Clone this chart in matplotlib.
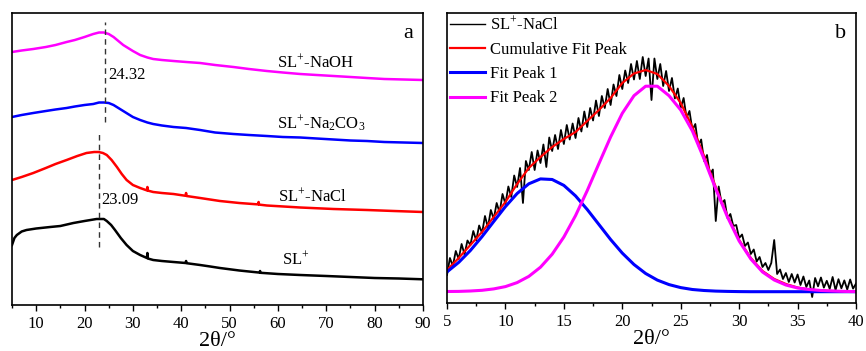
import numpy as np
import matplotlib
matplotlib.use("Agg")
import matplotlib.pyplot as plt
from matplotlib.ticker import MultipleLocator

plt.rcParams['font.family'] = ['Liberation Serif', 'DejaVu Serif']
plt.rcParams['mathtext.fontset'] = 'custom'
plt.rcParams['mathtext.rm'] = 'Liberation Serif'
plt.rcParams['mathtext.it'] = 'Liberation Serif:italic'

# ---- panel a: XRD patterns (intensity in a.u., stacked) ----
naoh_x = [5, 7, 9.4, 12, 14, 16.3, 18, 20, 21.8, 23, 24, 25, 26, 27, 28, 29, 30, 31.5, 33,
          34.2, 36, 38.4, 41, 43.9, 47, 50.8, 54, 57.7, 61, 64.6, 68, 71.5, 75, 78.4, 82, 86, 90]
naoh_y = [253, 254.5, 256, 258, 260, 263, 265, 268, 271, 272.5, 272.5, 271, 268, 264, 260, 257, 254,
          250, 247.5, 246, 245, 244, 243, 242, 240, 238, 236, 234, 232.5, 231, 230, 229, 228,
          227, 226, 225.5, 225]

na2co3_x = naoh_x
na2co3_y = [188, 190, 192, 194, 195.5, 197, 198.5, 200, 201, 202.5, 202.5, 202, 200, 197, 194, 191,
            188, 185, 182.5, 181, 179.5, 178, 177, 175, 172.5, 171, 170, 169, 168, 167.5, 166.5,
            165.5, 164.5, 164, 163, 162.5, 162]

nacl_x = [5, 7, 9.4, 12, 14, 16.3, 18.5, 20.4, 22, 22.9, 23.8, 24.6, 25.6, 26.7, 27.7, 28.7, 30,
          31.5, 32.9, 33.0, 33.1, 34.2, 36, 38.4, 40.9, 41.0, 41.1, 43.9, 48, 52, 55.9, 56.0,
          56.1, 57.7, 64.6, 71.5, 78.4, 84, 90]
nacl_y = [125, 128, 132, 137, 141, 145, 149, 152, 153, 153, 152, 150, 145, 138, 131, 125, 120,
          117, 114.6, 118, 114.4, 113, 112, 111, 109.2, 112, 109, 107, 104, 102, 100.6, 103,
          100.4, 99.5, 97.5, 96, 95, 94, 93]

sl_x = [5, 5.5, 6, 7, 8, 10, 12.9, 15, 17.7, 20, 22.5, 24, 24.6, 25.5, 26.3, 27.5, 28.7, 30,
        31.5, 32.9, 33.0, 33.1, 34.2, 36, 38.4, 40.9, 41.0, 41.1, 43.9, 46, 48, 52, 56.2, 56.3,
        56.4, 60, 64.6, 70, 75, 80, 85, 90]
sl_y = [60, 67, 70, 73.5, 75, 76.5, 78, 79, 82, 84, 86, 86, 84, 80, 75, 67, 60, 54, 50, 47, 52,
        46.5, 45, 44, 43, 42, 44, 41.8, 40, 38.5, 37, 34.5, 32.4, 34, 32.2, 31, 30, 29, 28, 27,
        26.5, 25.7]

# ---- panel b: peak fitting of SL+-NaCl ----
fit_x = np.linspace(5, 40, 36)
cumulative = [33, 45, 58, 71, 86, 101, 119, 135, 146, 156, 164, 171, 182, 193, 205, 220, 229.5,
              233, 229, 217, 200, 176, 147, 116, 87, 63, 45, 32, 24, 19, 15.5, 13.5, 12.5, 12,
              11.6, 11.4]
peak1 = [31.1, 40.6, 52.5, 66.4, 81.5, 96.4, 109.5, 119.2, 124.1, 123.5, 117.6, 107.1, 93.5,
         78.5, 63.5, 49.9, 38.5, 29.5, 22.9, 18.4, 15.4, 13.5, 12.5, 11.9, 11.6, 11.4, 11.3,
         11.3, 11.3, 11.3, 11.3, 11.3, 11.3, 11.3, 11.3, 11.3]
peak2 = [11.5, 11.6, 12.0, 12.7, 14.1, 16.4, 20.4, 26.6, 35.8, 48.8, 66.0, 87.4, 112.4, 139.4,
         166.0, 189.7, 207.3, 216.8, 216.8, 207.3, 193, 172, 144, 114, 86, 62, 44, 31, 23, 18,
         15, 13.5, 12.5, 12, 11.6, 11.4]

raw_x = np.linspace(5, 40, 141)
raw_y = [28, 45, 37, 52,
         44, 59, 48.5, 62.5,
         58, 72, 62.5, 77.5,
         70, 87, 75.5, 93,
         84, 100, 90.5, 109,
         99, 116.5, 106, 127.5,
         116, 135, 100, 142,
         133, 151, 133, 152.5,
         140, 158.5, 136, 165.5,
         152, 168, 154, 173,
         159, 178, 163.5, 179.5,
         165, 185, 171.5, 191.5,
         176, 195, 182.5, 202.5,
         187, 207, 195, 214,
         198, 218.5, 207, 228,
         214, 232.5, 220, 239,
         223.5, 242, 224, 246,
         227, 244.5, 203, 244.5,
         224, 239, 217, 232,
         212, 225, 204.5, 214.5,
         195, 205, 185, 192,
         173, 179, 157.5, 163.5,
         142, 148, 128.5, 133.5,
         82, 116.5, 99.5, 103,
         85, 89, 77, 78,
         65, 68.5, 57, 60.5,
         49, 53.5, 41.5, 46,
         36, 40, 33, 40,
         63, 29, 33.5, 24,
         30, 21, 29, 20.5,
         28.5, 18, 26.5, 16,
         22.5, 6, 25, 16.7,
         25.5, 15.4, 22.2, 14.1,
         26, 12.9, 23.8, 14.7,
         22.6, 13.5, 23.5, 14.4,
         19.4]

fig = plt.figure(figsize=(8.66, 3.51), dpi=100)
ax1 = fig.add_axes([12 / 866, 46 / 351, 411 / 866, 292 / 351])
ax2 = fig.add_axes([447 / 866, 48 / 351, 409 / 866, 290 / 351])

ax1.plot(naoh_x, naoh_y, color='#ff00ff', lw=1.8)
ax1.plot(na2co3_x, na2co3_y, color='#0000ff', lw=1.8)
ax1.plot(nacl_x, nacl_y, color='#ff0000', lw=1.8)
ax1.plot(sl_x, sl_y, color='black', lw=1.8)
ax1.plot([24.32, 24.32], [183, 283], color='#333333', lw=1, ls=(0, (4, 3)))
ax1.plot([23.09, 23.09], [58, 173], color='#333333', lw=1, ls=(0, (4, 3)))
ax1.text(24.9, 230, '24.32', fontsize=12, va='center')
ax1.text(23.55, 105, '23.09', fontsize=12, va='center')
ax1.text(59.8, 243, 'SL$^{+}$-NaOH', fontsize=12, va='center')
ax1.text(59.8, 181, 'SL$^{+}$-Na$_{2}$CO$_{3}$', fontsize=12, va='center')
ax1.text(60.0, 109, 'SL$^{+}$-NaCl', fontsize=12, va='center')
ax1.text(60.8, 46, 'SL$^{+}$', fontsize=12, va='center')
ax1.text(86.9, 272, 'a', fontsize=16, ha='center', va='center')
ax1.set_xlim(5, 90)
ax1.set_ylim(0, 292)
ax1.xaxis.set_major_locator(MultipleLocator(10))
ax1.xaxis.set_minor_locator(MultipleLocator(5))

ax2.plot(raw_x, raw_y, color='black', lw=1.3, label='SL$^{+}$-NaCl')
ax2.plot(fit_x, cumulative, color='#ff0000', lw=1.6, label='Cumulative Fit Peak')
ax2.plot(fit_x, peak1, color='#0000ff', lw=2.2, label='Fit Peak 1')
ax2.plot(fit_x, peak2, color='#ff00ff', lw=2.2, label='Fit Peak 2')
ax2.text(38.7, 270, 'b', fontsize=16, ha='center', va='center')
ax2.set_xlim(5, 40)
ax2.set_ylim(0, 290)
ax2.xaxis.set_major_locator(MultipleLocator(5))
ax2.xaxis.set_minor_locator(MultipleLocator(2.5))
leg = ax2.legend(loc='upper left', frameon=False, fontsize=12, handlelength=2.1,
                 handletextpad=0.3, labelspacing=0.5, borderaxespad=0.05, borderpad=0.1)
leg.get_lines()[0].set_linewidth(1.0)

for ax in (ax1, ax2):
    ax.set_yticks([])
    ax.set_xlabel('2θ/°', fontsize=16, labelpad=0)
    ax.tick_params(axis='x', which='major', direction='out', length=4, width=1, labelsize=12, pad=4)
    ax.tick_params(axis='x', which='minor', direction='out', length=2.5, width=1)
    for s in ax.spines.values():
        s.set_linewidth(1.2)

fig.savefig('out.png', dpi=100)
